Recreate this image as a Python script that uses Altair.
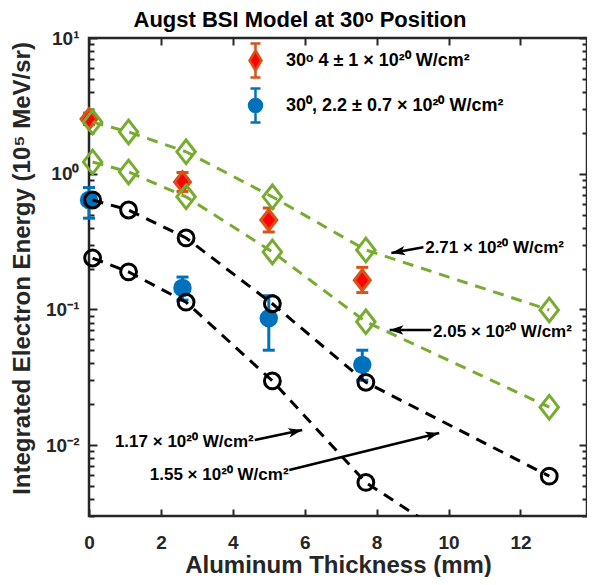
import math
import altair as alt
import pandas as pd

# ---------------- data ----------------
model_x = [0.1, 1.1, 2.7, 5.1, 7.7, 12.8]
model_271 = [2.40, 2.03, 1.45, 0.675, 0.274, 0.099]
model_205 = [1.22, 1.03, 0.675, 0.265, 0.081, 0.019]
model_155 = [0.64, 0.54, 0.336, 0.110, 0.029, 0.0059]
model_117 = [0.239, 0.189, 0.113, 0.0297, 0.0053, 0.00069]

exp_x = [0.0, 2.6, 5.0, 7.6]
red_y = [2.53, 0.87, 0.456, 0.164]
red_lo = [2.30, 0.74, 0.372, 0.133]
red_hi = [2.80, 1.02, 0.558, 0.204]
blue_y = [0.64, 0.144, 0.086, 0.039]
blue_lo = [0.47, 0.117, 0.050, 0.030]
blue_hi = [0.79, 0.173, 0.126, 0.050]

legend_labels = ["30ᵒ 4 ± 1 × 10²⁰ W/cm²", "30⁰, 2.2 ± 0.7 × 10²⁰ W/cm²"]

ann_text = ["2.71 × 10²⁰ W/cm²", "2.05 × 10²⁰ W/cm²",
            "1.17 × 10²⁰ W/cm²", "1.55 × 10²⁰ W/cm²"]
ann_tx = [9.35, 9.57, 4.58, 5.55]
ann_ty = [0.283, 0.068, 0.0105, 0.0060]
ann_align = ["left", "left", "right", "right"]
arrow_x0 = [9.30, 9.52, 4.61, 5.57]
arrow_y0 = [0.287, 0.0705, 0.0109, 0.00654]
arrow_x1 = [8.41, 8.36, 5.93, 9.74]
arrow_y1 = [0.260, 0.0705, 0.0129, 0.01227]

XMAX = 13.85
YMIN, YMAX = 0.003, 10.0
x_ticks = [0, 2, 4, 6, 8, 10, 12]
y_major = [0.01, 0.1, 1, 10]
y_minor = [round(m * 10 ** e, 6) for e in range(-3, 1) for m in range(2, 10)
           if YMIN <= m * 10 ** e <= YMAX]

# ---------------- style ----------------
W, H = 498, 478
FONT = "Liberation Sans"
AX = "#262626"
GREEN = "#77AC30"
ORANGE = "#D95319"
RED = "#FF0000"
BLUE = "#0072BD"

DIAMOND = "M0,-1L0.78,0L0,1L-0.78,0Z"
ARROW = "M0,0L0.55,1.6L0,1.2L-0.55,1.6Z"
LEG_RED = ("M0,-1.7L0,-1M-0.5,-1.7L0.5,-1.7M0,1.7L0,1M-0.5,1.7L0.5,1.7"
           "M0,-1L0.6,0L0,1L-0.6,0Z")
LEG_BLUE = ("M0,-1.7L0,-0.65M-0.5,-1.7L0.5,-1.7M0,1.7L0,0.65M-0.5,1.7L0.5,1.7"
            "M-0.65,0A0.65,0.65 0 1,0 0.65,0A0.65,0.65 0 1,0 -0.65,0Z")

xscale = alt.Scale(domain=[0, XMAX], nice=False, zero=False)
yscale = alt.Scale(type="log", domain=[YMIN, YMAX], nice=False)

lab = dict(labelFont=FONT, labelFontWeight="bold", labelColor=AX)
ttl = dict(titleFont=FONT, titleFontWeight="bold", titleColor=AX)


def x_axis(orient, labels):
    kw = dict(orient=orient, values=x_ticks, labels=labels, tickSize=7, offset=-7,
              domain=False, grid=False, tickColor=AX, tickWidth=2, format="d",
              labelFontSize=19, labelPadding=17, labelFlush=False,
              labelOverlap=False, **lab, **ttl)
    if labels:
        kw.update(title="Aluminum Thickness (mm)", titleFontSize=24, titlePadding=1)
    else:
        kw.update(title=None)
    return alt.Axis(**kw)


def y_axis(orient, major, labels):
    size = 8 if major else 5
    kw = dict(orient=orient, values=y_major if major else y_minor, labels=labels,
              tickSize=size, offset=-size, domain=False, grid=False,
              tickColor=AX, tickWidth=2, labelFontSize=19, labelPadding=10,
              labelOverlap=False, labelBound=False, **lab, **ttl)
    if labels:
        kw.update(
            labelExpr="datum.value >= 5 ? '10¹' : datum.value >= 0.5 ? '10⁰' : "
                      "datum.value >= 0.05 ? '10⁻¹' : '10⁻²'",
            title="Integrated Electron Energy (10⁵ MeV/sr)",
            titleFontSize=24, titleX=-63, titleY=230)
    else:
        kw.update(title=None)
    return alt.Axis(**kw)


def X(field="x", axis=None):
    return alt.X(f"{field}:Q", scale=xscale, axis=axis)


def Y(field="y", axis=None):
    return alt.Y(f"{field}:Q", scale=yscale, axis=axis)


def model_df(vals):
    return pd.DataFrame({"x": model_x, "y": vals})


exp_red = pd.DataFrame({"x": exp_x, "y": red_y, "lo": red_lo, "hi": red_hi,
                        "series": legend_labels[0]})
exp_blue = pd.DataFrame({"x": exp_x, "y": blue_y, "lo": blue_lo, "hi": blue_hi,
                         "series": legend_labels[1]})


def ang(i):
    def px(v):
        return v / XMAX * W

    def py(v):
        return (math.log10(YMAX) - math.log10(v)) / (math.log10(YMAX) - math.log10(YMIN)) * H
    dx = px(arrow_x1[i]) - px(arrow_x0[i])
    dy = py(arrow_y1[i]) - py(arrow_y0[i])
    return math.degrees(math.atan2(dx, -dy)) % 360


ann = pd.DataFrame({"text": ann_text, "tx": ann_tx, "ty": ann_ty, "align": ann_align,
                    "x0": arrow_x0, "y0": arrow_y0, "x1": arrow_x1, "y1": arrow_y1,
                    "angle": [ang(i) for i in range(4)]})

layers = []

# experimental error bars and markers (drawn underneath models)
for df, col in ((exp_red, ORANGE), (exp_blue, BLUE)):
    base = alt.Chart(df)
    layers.append(base.mark_rule(color=col, strokeWidth=3).encode(
        x=X(), y=Y("lo"), y2="hi:Q"))
    for f in ("lo", "hi"):
        layers.append(base.mark_tick(color=col, orient="horizontal", size=12,
                                     thickness=3, opacity=1).encode(x=X(), y=Y(f)))

layers.append(alt.Chart(exp_red).mark_point(
    shape=DIAMOND, filled=True, fill=RED, stroke=ORANGE, strokeWidth=3,
    size=420, opacity=1).encode(x=X(), y=Y()))
layers.append(alt.Chart(exp_blue).mark_circle(
    color=BLUE, size=340, opacity=1).encode(x=X(), y=Y()))

# model curves
axis_sets = [
    (x_axis("bottom", True), y_axis("left", True, True)),
    (x_axis("top", False), y_axis("left", False, False)),
    (None, y_axis("right", True, False)),
    (None, y_axis("right", False, False)),
]
models = [(model_271, GREEN), (model_205, GREEN), (model_155, "black"), (model_117, "black")]
for (vals, col), (xa, ya) in zip(models, axis_sets):
    df = model_df(vals)
    layers.append(alt.Chart(df).mark_line(
        color=col, strokeWidth=3, strokeDash=[11, 8], clip=True).encode(
        x=X(axis=xa), y=Y(axis=ya)))
for vals, col in models:
    df = model_df(vals)
    if col == GREEN:
        m = alt.Chart(df).mark_point(shape=DIAMOND, filled=False, color=col,
                                     strokeWidth=3, size=560, opacity=1)
    else:
        m = alt.Chart(df).mark_point(shape="circle", filled=False, color=col,
                                     strokeWidth=3, size=250, opacity=1)
    layers.append(m.transform_filter(f"datum.y >= {YMIN}").encode(x=X(), y=Y()))

# annotations
annc = alt.Chart(ann)
layers.append(annc.mark_rule(color="black", strokeWidth=2.5).encode(
    x=X("x0"), y=Y("y0"), x2="x1:Q", y2="y1:Q"))
layers.append(annc.mark_point(shape=ARROW, filled=True, color="black", size=300,
                              opacity=1).encode(
    x=X("x1"), y=Y("y1"), angle=alt.Angle("angle:Q", scale=None)))
for al in ("left", "right"):
    layers.append(annc.transform_filter(f"datum.align == '{al}'").mark_text(
        align=al, baseline="middle", font=FONT, fontSize=17, fontWeight="bold",
        color="black").encode(x=X("tx"), y=Y("ty"), text="text:N"))

# legend (scale-driven, no visible marks)
leg = alt.Legend(title=None, orient="none", legendX=155, legendY=11, padding=0,
                 symbolSize=400, symbolStrokeWidth=2.5, symbolOpacity=1,
                 labelFont=FONT, labelFontSize=18, labelFontWeight="bold",
                 labelColor="black", labelLimit=500, labelOffset=19, rowPadding=0)
exp_all = pd.concat([exp_red, exp_blue])
layers.append(alt.Chart(exp_all).transform_filter("false").mark_point(
    filled=True, opacity=1, strokeWidth=2.5).encode(
    x=X(), y=Y(),
    fill=alt.Fill("series:N", scale=alt.Scale(domain=legend_labels, range=[RED, BLUE]), legend=leg),
    stroke=alt.Stroke("series:N", scale=alt.Scale(domain=legend_labels, range=[ORANGE, BLUE]), legend=leg),
    shape=alt.Shape("series:N", scale=alt.Scale(domain=legend_labels, range=[LEG_RED, LEG_BLUE]), legend=leg),
))

chart = alt.layer(*layers).resolve_axis(x="independent", y="independent").properties(
    width=W, height=H,
    autosize=alt.AutoSizeParams(type="none"),
    padding={"left": 81, "top": 30, "right": 0, "bottom": 61},
    title=alt.TitleParams(text="Augst BSI Model at 30ᵒ Position", font=FONT,
                          fontSize=22, fontWeight="bold", color="black",
                          anchor="middle", dx=-38, dy=11, offset=8),
).configure_view(stroke=AX, strokeWidth=2.5)

chart.save("out.html", embed_options={"renderer": "svg", "actions": False})
